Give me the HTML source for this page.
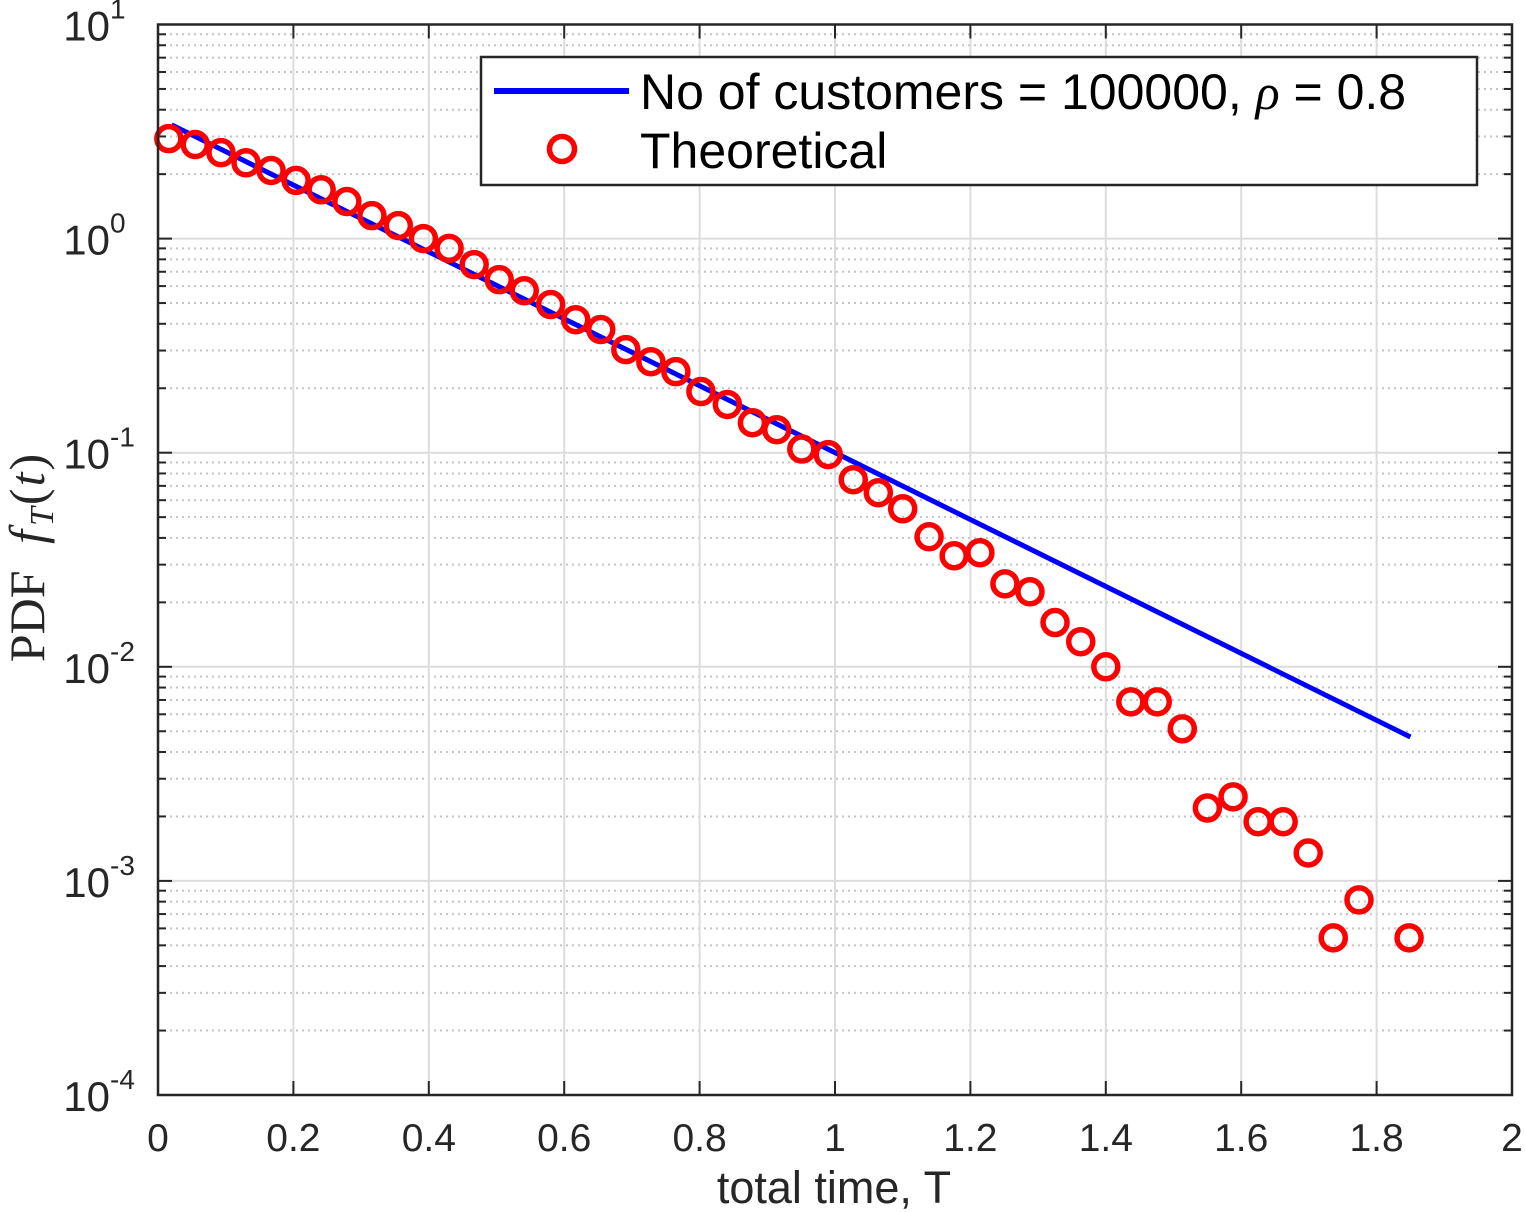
<!DOCTYPE html>
<html><head><meta charset="utf-8"><style>body{margin:0;background:#fff}svg{display:block}</style></head>
<body>
<svg id="chart" width="1525" height="1212" xmlns="http://www.w3.org/2000/svg" font-family="Liberation Sans, sans-serif"></svg>
<script>
const xTicks=[0,0.2,0.4,0.6,0.8,1,1.2,1.4,1.6,1.8,2];
const xTickLabels=["0","0.2","0.4","0.6","0.8","1","1.2","1.4","1.6","1.8","2"];
const yDecades=[1,0,-1,-2,-3,-4];
const lineT=[0.02,1.85];
const lineV=[3.4,0.0047];
const simT=[0.016,0.055,0.093,0.130,0.167,0.204,0.241,0.279,0.316,0.355,0.392,0.430,0.467,0.504,0.541,0.580,0.617,0.654,0.691,0.728,0.765,0.802,0.841,0.878,0.914,0.951,0.990,1.027,1.064,1.100,1.139,1.176,1.214,1.251,1.288,1.325,1.363,1.400,1.437,1.476,1.513,1.550,1.588,1.625,1.662,1.699,1.736,1.774,1.848];
const simV=[2.93,2.75,2.52,2.26,2.08,1.87,1.69,1.49,1.28,1.15,1.0,0.90,0.756,0.643,0.571,0.492,0.418,0.376,0.303,0.266,0.239,0.193,0.168,0.138,0.128,0.104,0.098,0.0748,0.065,0.0547,0.0405,0.033,0.0341,0.0244,0.0224,0.0161,0.0131,0.0100,0.00686,0.00686,0.00513,0.00219,0.00247,0.00189,0.00189,0.00135,0.000542,0.000815,0.000542];
const L=158,R=1512,T=24.5,B=1095;
const X=t=>L+(t-0)/(2-0)*(R-L);
const Y=v=>T+(1-Math.log10(v))/5*(B-T);
const svg=document.getElementById('chart');
const NS='http://www.w3.org/2000/svg';
function mk(tag,attrs,parent){const e=document.createElementNS(NS,tag);for(const k in attrs)e.setAttribute(k,attrs[k]);(parent||svg).appendChild(e);return e;}
const grid=mk('g',{});


for(let d=-4;d<1;d++){for(let m=2;m<=9;m++){const y=Y(m*Math.pow(10,d));mk('line',{x1:L,x2:R,y1:y,y2:y,stroke:'#c4c4c4','stroke-width':2,'stroke-dasharray':'2 4'},grid);
mk('line',{x1:L,x2:L+8,y1:y,y2:y,stroke:'#262626','stroke-width':2},grid);mk('line',{x1:R-8,x2:R,y1:y,y2:y,stroke:'#262626','stroke-width':2},grid);}}
yDecades.forEach(d=>{const y=Y(Math.pow(10,d));mk('line',{x1:L,x2:R,y1:y,y2:y,stroke:'#dcdcdc','stroke-width':2},grid);
mk('line',{x1:L,x2:L+14,y1:y,y2:y,stroke:'#262626','stroke-width':2},grid);mk('line',{x1:R-14,x2:R,y1:y,y2:y,stroke:'#262626','stroke-width':2},grid);
const t=mk('text',{x:110,y:y+16,'font-size':42,fill:'#262626','text-anchor':'end'});t.textContent='10';

const s=mk('text',{x:110,y:y-6,'font-size':28,fill:'#262626'});s.textContent=String(d);});
xTicks.forEach((v,i)=>{const x=X(v);mk('line',{x1:x,x2:x,y1:T,y2:B,stroke:'#dcdcdc','stroke-width':2},grid);
mk('line',{x1:x,x2:x,y1:B-14,y2:B,stroke:'#262626','stroke-width':2},grid);mk('line',{x1:x,x2:x,y1:T,y2:T+14,stroke:'#262626','stroke-width':2},grid);
const t=mk('text',{x:x,y:1151,'font-size':39,fill:'#262626','text-anchor':'middle'});t.textContent=xTickLabels[i];
});
const line=mk('polyline',{points:lineT.map((t,i)=>X(t)+','+Y(lineV[i])).join(' '),fill:'none',stroke:'#0000ff','stroke-width':5});


simT.forEach((t,i)=>{const c=mk('circle',{cx:X(t),cy:Y(simV[i]),r:12,fill:'none',stroke:'#ff0000','stroke-width':5.5});

});
const box=mk('rect',{x:L,y:T,width:R-L,height:B-T,fill:'none',stroke:'#262626','stroke-width':2.5});


const lg=mk('g',{});


mk('rect',{x:481,y:57,width:996,height:128,fill:'#fff',stroke:'#262626','stroke-width':2.5},lg);
mk('line',{x1:494,x2:629,y1:91,y2:91,stroke:'#0000ff','stroke-width':6},lg);
mk('circle',{cx:562,cy:149,r:12.5,fill:'none',stroke:'#ff0000','stroke-width':5.5},lg);
const t1=mk('text',{x:640,y:109,'font-size':50,fill:'#000'},lg);
t1.innerHTML='No of customers = 100000, <tspan font-family="Liberation Serif, serif" font-style="italic">ρ</tspan> = 0.8';
const t2=mk('text',{x:640,y:168,'font-size':50,fill:'#000'},lg);t2.textContent='Theoretical';
const xl=mk('text',{x:834,y:1203,'font-size':45,fill:'#262626','text-anchor':'middle'});xl.textContent='total time, T';

const yl=mk('text',{x:0,y:0,'font-size':50,fill:'#262626','text-anchor':'middle','font-family':'Liberation Serif, serif',transform:'translate(44,558) rotate(-90)'});
yl.innerHTML='PDF <tspan font-style="italic" dx="14">f</tspan><tspan font-style="italic" font-size="34" dy="9" dx="4">T</tspan><tspan dy="-9" dx="2">(</tspan><tspan font-style="italic" dx="2">t</tspan><tspan dx="2">)</tspan>';

</script>
</body></html>
